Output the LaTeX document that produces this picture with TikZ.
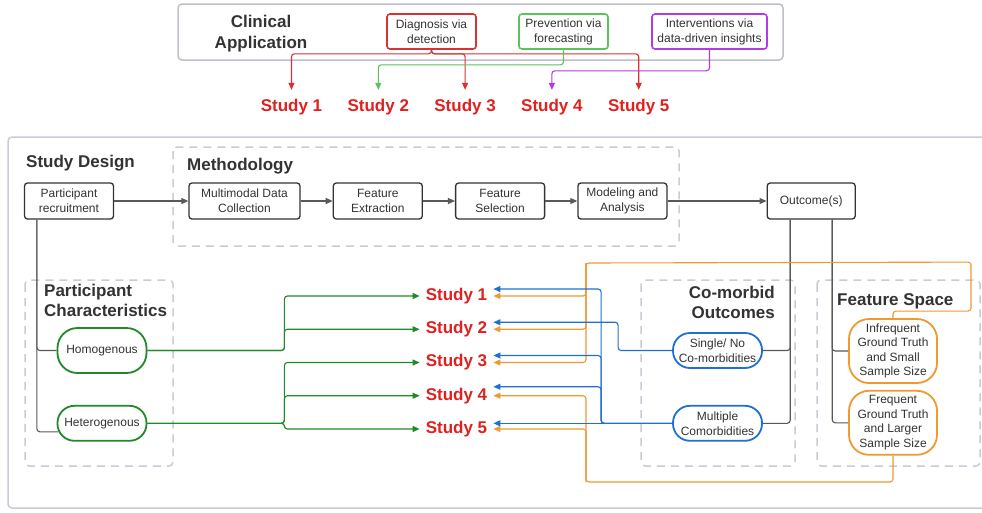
\documentclass[tikz,border=0pt]{standalone}
\usepackage{fontspec}
\setmainfont{Liberation Sans}
\usetikzlibrary{arrows.meta, positioning}

\definecolor{textgray}{HTML}{333333}
\definecolor{linegray}{HTML}{595959}
\definecolor{framegray}{HTML}{C9CCD6}
\definecolor{studyred}{HTML}{E0211F}
\definecolor{diagred}{HTML}{D63333}
\definecolor{prevgreen}{HTML}{5CC25C}
\definecolor{chargreen}{HTML}{22892A}
\definecolor{intpurple}{HTML}{B13BE6}
\definecolor{combblue}{HTML}{1F70D4}
\definecolor{featorange}{HTML}{F0992F}

\begin{document}
\begin{tikzpicture}[x=1pt, y=-1pt]
    \tikzstyle{heading} = [font=\fontsize{17}{20}\selectfont\bfseries, text=textgray, inner sep=0pt]
    \tikzstyle{process} = [rectangle, rounded corners=3pt, minimum width=89pt, minimum height=36pt, align=center, draw=textgray, line width=1.3pt, text=textgray, font=\fontsize{12}{15}\selectfont, inner sep=1pt]
    \tikzstyle{app} = [process, minimum height=35pt, line width=1.6pt]
    \tikzstyle{pill} = [rectangle, rounded corners=17pt, minimum width=89pt, minimum height=35pt, align=center, line width=1.8pt, text=textgray, font=\fontsize{12}{15}\selectfont, inner sep=1pt]
    \tikzstyle{featbox} = [rectangle, rounded corners=20pt, minimum width=88pt, minimum height=64pt, align=center, draw=featorange, line width=1.8pt, text=textgray, font=\fontsize{12}{14.5}\selectfont, inner sep=1pt]
    \tikzstyle{study} = [font=\fontsize{17}{20}\selectfont\bfseries, text=studyred, inner xsep=6pt, inner ysep=3pt]
    \tikzstyle{group} = [draw=framegray, line width=1.5pt, dash pattern=on 8pt off 6pt, rounded corners=4pt]
    \tikzstyle{conn} = [line width=1.1pt, rounded corners=3pt]
    \tikzstyle{arrow} = [conn, ->, >={Stealth[length=7pt, width=6pt, inset=0pt]}]

    \useasboundingbox (0,0) rectangle (982,512);
    \clip (0,0) rectangle (982,512);
    \fill[white] (0,0) rectangle (982,512);

    \draw[draw=framegray!85!gray, line width=1.5pt, rounded corners=4pt] (178,4) rectangle (783,60);
    \draw[draw=framegray, line width=1.5pt, rounded corners=4pt] (8,137) rectangle (1000,508);
    \draw[group] (173,147) rectangle (679,246);
    \draw[group] (25,280) rectangle (173,466);
    \draw[group] (641,280) rectangle (795,466);
    \draw[group] (817,280) rectangle (980,466);

    \node (clin) [heading, align=center, anchor=north, font=\fontsize{17}{21}\selectfont\bfseries] at (261,14.5) {Clinical\\Application};
    \node (design) [heading, anchor=base west] at (26,167) {Study Design};
    \node (method) [heading, anchor=base west] at (187,170) {Methodology};
    \node (chars) [heading, align=left, anchor=north west] at (44,283.5) {Participant\\Characteristics};
    \node (comorb) [heading, align=right, anchor=north east] at (775,285.5) {Co-morbid\\Outcomes};
    \node (fspace) [heading, anchor=base west] at (837,305.5) {Feature Space};

    \node (diag) [app, draw=diagred] at (431.5,31.5) {Diagnosis via\\detection};
    \node (prev) [app, draw=prevgreen] at (563.5,31.5) {Prevention via\\forecasting};
    \node (intv) [app, draw=intpurple, minimum width=115pt] at (709.5,31.5) {Interventions via\\data-driven insights};

    \node (t1) [study] at (291.5,107.5) {Study 1};
    \node (t2) [study, right=13pt of t1] {Study 2};
    \node (t3) [study, right=13pt of t2] {Study 3};
    \node (t4) [study, right=13pt of t3] {Study 4};
    \node (t5) [study, right=13pt of t4] {Study 5};

    \node (rec) [process] at (69,201) {Participant\\recruitment};
    \node (mdc) [process, minimum width=111pt] at (244.5,201) {Multimodal Data\\Collection};
    \node (fext) [process, right=32pt of mdc] {Feature\\Extraction};
    \node (fsel) [process, right=32pt of fext] {Feature\\Selection};
    \node (model) [process, right=32pt of fsel] {Modeling and\\Analysis};
    \node (outc) [process, minimum width=88pt, right=99pt of model] {Outcome(s)};

    \node (homo) [pill, draw=chargreen, minimum height=45pt, rounded corners=20pt] at (102,350.5) {Homogenous};
    \node (het) [pill, draw=chargreen, below=31pt of homo] {Heterogenous};
    \node (single) [pill, draw=combblue] at (717.5,350.5) {Single/ No\\Co-morbidities};
    \node (multi) [pill, draw=combblue, below=36pt of single] {Multiple\\Comorbidities};
    \node (infr) [featbox] at (893,351) {Infrequent\\Ground Truth\\and Small\\Sample Size};
    \node (freq) [featbox, below=6pt of infr] {Frequent\\Ground Truth\\and Larger\\Sample Size};

    \node (m1) [study] at (456.5,296) {Study 1};
    \node (m2) [study, below=11pt of m1] {Study 2};
    \node (m3) [study, below=11pt of m2] {Study 3};
    \node (m4) [study, below=11pt of m3] {Study 4};
    \node (m5) [study, below=11pt of m4] {Study 5};

    \coordinate (otop) at (586,263);
    \coordinate (obot) at (586,482);

    \draw[arrow, diagred, shorten >=6.5pt] (diag.south) -- ++(0,4) -| (t1.north);
    \draw[arrow, diagred, shorten >=6.5pt] (diag.south) -- ++(0,4) -| (t3.north);
    \draw[arrow, diagred, shorten >=6.5pt] (diag.south) -- ++(0,4) -| (t5.north);
    \draw[arrow, prevgreen, shorten >=6.5pt] (prev.south) -- ++(0,15) -| (t2.north);
    \draw[arrow, intpurple, shorten >=6.5pt] (intv.south) -- ++(0,21) -| (t4.north);

    \draw[arrow, linegray] (rec) -- (mdc);
    \draw[arrow, linegray] (mdc) -- (fext);
    \draw[arrow, linegray] (fext) -- (fsel);
    \draw[arrow, linegray] (fsel) -- (model);
    \draw[arrow, linegray] (model) -- (outc);

    \draw[conn, linegray] ([xshift=13pt]rec.south west) |- (homo.west);
    \draw[conn, linegray] ([xshift=13pt]rec.south west) |- ([xshift=2pt, yshift=-8.5pt]het.west);
    \draw[conn, linegray] ([xshift=-21pt]outc.south) |- (single.east);
    \draw[conn, linegray] ([xshift=-21pt]outc.south) |- (multi.east);
    \draw[conn, linegray] ([xshift=21pt]outc.south) |- (infr.west);
    \draw[conn, linegray] ([xshift=21pt]outc.south) |- (freq.west);

    \draw[arrow, chargreen] (homo.east) -- ++(137,0) |- (m1.west);
    \draw[arrow, chargreen] (homo.east) -- ++(137,0) |- (m2.west);
    \draw[arrow, chargreen] (het.east) -- ++(137,0) |- (m3.west);
    \draw[arrow, chargreen] (het.east) -- ++(137,0) |- (m4.west);
    \draw[arrow, chargreen] (het.east) -- ++(137,0) |- (m5.west);

    \draw[arrow, featorange] (infr.north) -- ++(0,-7) -| ++(78,-49) -- (otop) |- (m1.east);
    \draw[arrow, featorange] (otop) |- (m2.east);
    \draw[arrow, featorange] (otop) |- (m3.east);
    \draw[arrow, featorange] (freq.south) |- (obot) |- (m4.east);
    \draw[arrow, featorange] (obot) |- (m5.east);

    \draw[arrow, combblue] (single.west) -- ++(-54,0) |- ([yshift=7pt]m2.east);
    \draw[arrow, combblue] (multi.west) -- (multi.west -| m5.east);
    \draw[arrow, combblue] (multi.west) -- ++(-71,0) |- ([yshift=7pt]m1.east);
    \draw[arrow, combblue] (multi.west) -- ++(-71,0) |- ([yshift=7pt]m3.east);
    \draw[arrow, combblue] (multi.west) -- ++(-71,0) |- ([yshift=9pt]m4.east);
\end{tikzpicture}
\end{document}
